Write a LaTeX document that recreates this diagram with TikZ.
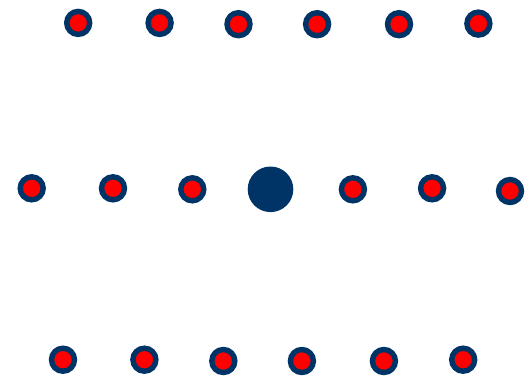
\documentclass[tikz,border=0pt]{standalone}
\usepackage{tikz}
\definecolor{navy}{HTML}{003366}
\tikzset{
  ring/.style={circle, draw=navy, fill=red, line width=5.4pt, minimum size=23pt, inner sep=0pt},
  hub/.style={circle, fill=navy, minimum size=45.6pt, inner sep=0pt}
}
\begin{document}
\begin{tikzpicture}[x=1pt, y=-1pt]
\useasboundingbox (0,0) rectangle (529,377);
% top row
\node[ring] (t1) at (78.2,22.9) {};
\node[ring] (t2) at (159.6,22.9) {};
\node[ring] (t3) at (238.5,24.2) {};
\node[ring] (t4) at (317.1,24.2) {};
\node[ring] (t5) at (399,24.2) {};
\node[ring] (t6) at (478.4,23.6) {};
% middle row
\node[ring] (m1) at (31.7,188.3) {};
\node[ring] (m2) at (113,188.3) {};
\node[ring] (m3) at (192.3,189.3) {};
\node[hub] (c) at (270.5,189.3) {};
\node[ring] (m4) at (352.9,189.3) {};
\node[ring] (m5) at (432.1,188.3) {};
\node[ring] (m6) at (510,191) {};
% bottom row
\node[ring] (b1) at (63,359.7) {};
\node[ring] (b2) at (144.4,359.7) {};
\node[ring] (b3) at (223.3,361) {};
\node[ring] (b4) at (301.9,361) {};
\node[ring] (b5) at (383.9,361) {};
\node[ring] (b6) at (463.2,359.7) {};
\end{tikzpicture}
\end{document}
